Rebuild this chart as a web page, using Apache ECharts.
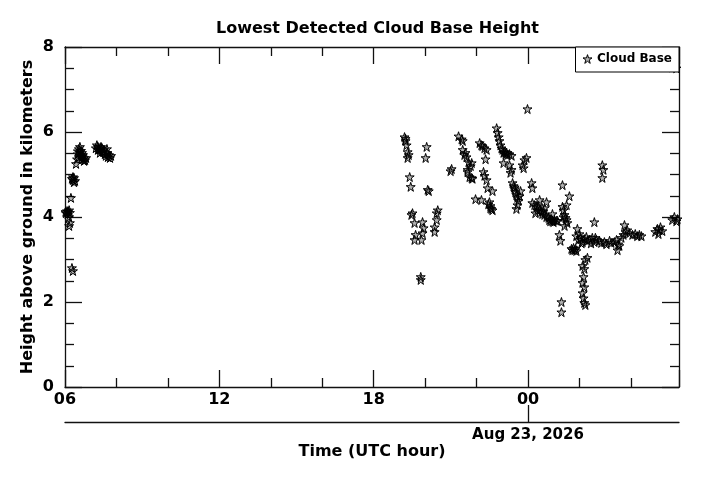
<!DOCTYPE html>
<html>
<head>
<meta charset="utf-8">
<script src="https://cdn.jsdelivr.net/npm/echarts@6/dist/echarts.min.js"></script>
<style>html,body{margin:0;padding:0;background:#fff}#c{width:701px;height:480px}</style>
</head>
<body>
<div id="c"></div>
<script>
// Time in hours since 2026-08-22 00:00 UTC, cloud base height in km
const morningPoints = [
[6.02,4.12],[6.04,4.09],[6.08,4.14],[6.12,4.12],[6.16,4.16],[6.10,4.07],[6.19,4.10],
[6.16,4.00],[6.19,3.86],[6.16,3.79],
[6.23,4.45],
[6.27,4.90],[6.31,4.87],[6.35,4.92],[6.39,4.85],[6.31,4.94],[6.35,4.82],
[6.27,2.80],[6.31,2.73],
[6.43,5.25],[6.47,5.36],[6.50,5.48],[6.54,5.60],[6.58,5.53],[6.62,5.46],[6.66,5.41],[6.70,5.36],[6.74,5.39],[6.78,5.34],[6.82,5.39],[6.58,5.65],[6.62,5.56],[6.54,5.41],[6.66,5.51],[6.70,5.46],[6.74,5.32],[6.50,5.55],
[7.20,5.62],[7.24,5.69],[7.28,5.65],[7.32,5.60],[7.36,5.58],[7.40,5.65],[7.44,5.62],[7.48,5.53],[7.51,5.58],[7.55,5.48],[7.59,5.44],[7.63,5.51],[7.67,5.41],[7.71,5.46],[7.75,5.39],[7.79,5.44],[7.36,5.51],[7.44,5.55],[7.28,5.58],[7.63,5.60]
];
const eveningPoints = [
[19.20,5.88],[19.24,5.84],[19.24,5.79],[19.28,5.69],[19.32,5.53],[19.36,5.46],[19.32,5.39],
[20.06,5.65],[20.02,5.39],
[19.40,4.94],[19.44,4.71],
[20.10,4.64],[20.14,4.61],
[19.47,4.05],[19.51,4.09],[19.59,3.86],[19.63,3.58],[19.59,3.46],[19.90,3.88],[19.94,3.74],[19.90,3.62],[19.86,3.46],
[20.49,4.16],[20.45,4.09],[20.45,3.93],[20.37,3.76],[20.37,3.65],
[19.83,2.59],[19.83,2.52],
[20.99,5.08],[21.03,5.13],
[21.30,5.90],[21.42,5.83],[21.46,5.79],
[21.46,5.58],[21.53,5.46],[21.57,5.51],[21.61,5.41],[21.69,5.29],[21.77,5.20],[21.81,5.27],[21.65,5.11],[21.73,4.94],[21.84,4.90],[21.65,5.06],[21.81,4.92],
[22.12,5.74],[22.19,5.69],[22.23,5.67],[22.31,5.62],[22.39,5.58],
[22.35,5.36],
[22.27,5.06],[22.31,4.97],[22.39,4.87],
[22.43,4.68],[22.62,4.61],
[21.96,4.42],[22.19,4.40],
[22.50,4.35],[22.54,4.26],[22.58,4.19],[22.62,4.16],[22.54,4.21],[22.46,4.30],
[22.78,6.09],[22.82,5.98],[22.86,5.88],[22.89,5.79],[22.93,5.69],[22.97,5.62],[23.01,5.58],[23.09,5.53],[23.13,5.48],[23.20,5.46],[23.28,5.48],[23.36,5.44],[23.05,5.51],[23.17,5.51],
[23.05,5.27],[23.28,5.22],[23.36,5.11],[23.32,5.04],
[23.79,5.22],[23.83,5.15],[23.94,5.39],[23.86,5.34],
[23.98,6.54],
[23.40,4.80],[23.44,4.73],[23.48,4.66],[23.51,4.59],[23.55,4.52],[23.59,4.45],[23.63,4.38],[23.67,4.49],[23.59,4.28],[23.55,4.19],[23.71,4.61],[23.48,4.70]
];
const nightPoints = [
[24.14,4.80],[24.17,4.68],
[24.17,4.33],[24.25,4.28],[24.33,4.24],[24.37,4.16],[24.45,4.16],[24.52,4.12],[24.56,4.07],[24.64,4.05],[24.72,4.00],[24.80,3.98],[24.83,3.93],[24.91,3.95],[25.03,3.93],[25.11,3.91],
[24.72,4.35],[24.45,4.40],[24.29,4.09],[24.64,4.21],[24.95,4.07],[24.41,4.26],[24.60,4.14],[24.87,3.90],[24.99,3.88],
[25.15,3.91],[24.95,3.90],
[25.34,4.24],[25.38,4.16],[25.42,4.05],[25.46,3.98],[25.50,3.93],[25.53,3.86],[25.42,3.79],[25.38,4.00],
[25.34,4.75],[25.61,4.49],[25.50,4.28],
[25.22,3.58],[25.26,3.44],
[25.30,2.00],[25.30,1.76],
[25.92,3.72],
[25.69,3.25],[25.73,3.22],[25.77,3.27],[25.81,3.22],[25.85,3.25],[25.88,3.20],
[26.31,3.04],[26.23,2.99],[26.12,2.85],[26.19,2.78],[26.16,2.59],[26.12,2.45],[26.19,2.35],[26.12,2.21],[26.16,2.09],[26.19,1.98],[26.23,1.93]
];
const dawnPoints = [
[25.88,3.55],[25.96,3.46],[26.04,3.51],[26.12,3.41],[26.19,3.48],[26.31,3.44],[26.39,3.46],[26.50,3.51],[26.58,3.41],[26.66,3.46],[26.78,3.44],[26.85,3.39],[26.97,3.41],[27.05,3.36],[27.17,3.44],[27.24,3.39],[27.36,3.41],[27.44,3.46],[27.51,3.36],[27.55,3.32],[27.63,3.51],[27.71,3.58],[27.79,3.65],[27.86,3.69],[27.94,3.62],[28.06,3.58],[28.17,3.60],[28.25,3.55],[28.33,3.58],[28.41,3.55],
[26.00,3.60],[26.08,3.38],[26.27,3.53],[26.45,3.38],[26.62,3.51],
[26.58,3.88],[27.75,3.81],[27.48,3.22],
[26.89,5.22],[26.93,5.11],[26.89,4.92],
[28.95,3.65],[29.03,3.72],[29.07,3.60],[29.11,3.69],[29.15,3.76],[29.22,3.67],
[29.61,3.93],[29.69,4.00],[29.77,3.90],[29.81,3.95],
[29.61,7.52],[29.77,7.50]
];
const xMinHour = 6, xMaxHour = 29.87, xStepHour = 6;
const yTicksKm = [0, 2, 4, 6, 8];
const dateLabelHour = 24;
const dateLabel = 'Aug 23, 2026';
const seriesName = 'Cloud Base';

const starPath = 'path://M50,2 L61,37 L98,37 L68,59 L79,95 L50,73 L21,95 L32,59 L2,37 L39,37 Z';
const FONT = 'DejaVu Sans';
const allPoints = morningPoints.concat(eveningPoints, nightPoints, dawnPoints);

const chart = echarts.init(document.getElementById('c'), null, {renderer: 'canvas'});
const lineStyle = {color: '#111', width: 1.3};
const baseX = {
  type: 'value', min: xMinHour, max: xMaxHour, interval: xStepHour, gridIndex: 0,
  splitLine: {show: false},
  axisLine: {show: true, onZero: false, lineStyle: lineStyle}
};
chart.setOption({
  animation: false,
  backgroundColor: '#fff',
  title: {
    text: 'Lowest Detected Cloud Base Height',
    left: 211, top: 16,
    textStyle: {fontFamily: FONT, fontWeight: 'bold', fontSize: 16, color: '#000'}
  },
  legend: {
    right: 22, top: 47,
    padding: [6, 7, 7, 7],
    backgroundColor: '#fff', borderColor: '#000', borderWidth: 1, borderRadius: 0,
    itemWidth: 9, itemHeight: 9, itemGap: 5, z: 10,
    textStyle: {fontFamily: FONT, fontWeight: 'bold', fontSize: 12, color: '#000'},
    data: [{name: seriesName, icon: starPath, itemStyle: {color: 'rgba(0,0,0,0.3)', borderColor: '#000', borderWidth: 1}}]
  },
  grid: {left: 65, right: 22, top: 47, bottom: 93},
  xAxis: [
    Object.assign({}, baseX, {
      position: 'bottom',
      axisTick: {show: true, inside: true, length: 17, lineStyle: lineStyle},
      minorTick: {show: true, splitNumber: 3, length: 9, lineStyle: lineStyle},
      axisLabel: {
        margin: 5, color: '#000', fontFamily: FONT, fontWeight: 'bold', fontSize: 16,
        formatter: function (v) {
          if (Math.abs(v % xStepHour) > 1e-6) return '';
          const h = ((v % 24) + 24) % 24;
          return (h < 10 ? '0' : '') + h;
        }
      }
    }),
    Object.assign({}, baseX, {
      position: 'top',
      axisTick: {show: true, inside: true, length: 17, lineStyle: lineStyle},
      minorTick: {show: true, splitNumber: 3, length: 9, lineStyle: lineStyle},
      axisLabel: {show: false}
    }),
    Object.assign({}, baseX, {
      position: 'bottom', offset: 35,
      name: 'Time (UTC hour)', nameLocation: 'middle', nameGap: 22, nameMoveOverlap: false,
      nameTextStyle: {fontFamily: FONT, fontWeight: 'bold', fontSize: 16, color: '#000'},
      axisTick: {show: true, inside: true, length: 17, customValues: [dateLabelHour], lineStyle: lineStyle},
      axisLabel: {
        margin: 6, color: '#000', fontFamily: FONT, fontWeight: 'bold', fontSize: 15,
        customValues: [dateLabelHour],
        formatter: function () { return dateLabel; }
      }
    })
  ],
  yAxis: [
    {
      type: 'value', min: yTicksKm[0], max: yTicksKm[yTicksKm.length - 1], interval: yTicksKm[1] - yTicksKm[0],
      position: 'left',
      name: 'Height above ground in kilometers', nameLocation: 'middle', nameGap: 29, nameMoveOverlap: false,
      nameTextStyle: {fontFamily: FONT, fontWeight: 'bold', fontSize: 16, color: '#000'},
      splitLine: {show: false},
      axisLine: {show: true, onZero: false, lineStyle: lineStyle},
      axisTick: {show: true, inside: true, length: 17, lineStyle: lineStyle},
      minorTick: {show: true, splitNumber: 4, length: 9, lineStyle: lineStyle},
      axisLabel: {margin: 11, color: '#000', fontFamily: FONT, fontWeight: 'bold', fontSize: 16}
    },
    {
      type: 'value', min: yTicksKm[0], max: yTicksKm[yTicksKm.length - 1], interval: yTicksKm[1] - yTicksKm[0],
      position: 'right',
      splitLine: {show: false},
      axisLine: {show: true, onZero: false, lineStyle: lineStyle},
      axisTick: {show: true, inside: true, length: 17, lineStyle: lineStyle},
      minorTick: {show: true, splitNumber: 4, length: 9, lineStyle: lineStyle},
      axisLabel: {show: false}
    }
  ],
  series: [{
    name: seriesName,
    type: 'scatter',
    xAxisIndex: 0, yAxisIndex: 0,
    symbol: starPath,
    symbolSize: 9,
    itemStyle: {color: 'rgba(0,0,0,0.3)', borderColor: '#000', borderWidth: 1, opacity: 1},
    data: allPoints
  }]
});
</script>
</body>
</html>
